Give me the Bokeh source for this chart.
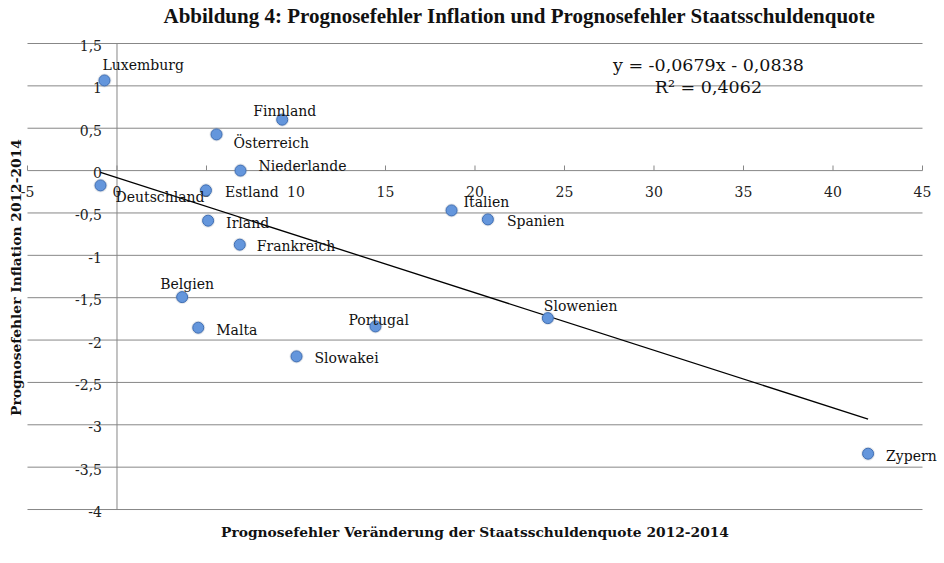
import math
from bokeh.plotting import figure
from bokeh.models import ColumnDataSource, Label
from bokeh.core.properties import value
from bokeh.embed import file_html
from bokeh.resources import INLINE

# ---- data -------------------------------------------------------------
countries = ["Luxemburg", "Finnland", "Österreich", "Niederlande", "Deutschland",
             "Estland", "Irland", "Frankreich", "Italien", "Spanien", "Belgien",
             "Malta", "Portugal", "Slowakei", "Slowenien", "Zypern"]
debt_error = [-0.70, 9.23, 5.56, 6.90, -0.92, 4.97, 5.09, 6.86, 18.69, 20.72,
              3.64, 4.54, 14.44, 10.03, 24.07, 41.96]
infl_error = [1.064, 0.601, 0.427, 0.0, -0.175, -0.233, -0.591, -0.874, -0.470,
              -0.576, -1.493, -1.854, -1.839, -2.193, -1.741, -3.341]

slope = -0.0679
intercept = -0.0838
r_squared = 0.4062

x_ticks = [-5, 0, 5, 10, 15, 20, 25, 30, 35, 40, 45]
x_tick_labels = ["-5", "0", "5", "10", "15", "20", "25", "30", "35", "40", "45"]
y_ticks = [1.5, 1.0, 0.5, 0.0, -0.5, -1.0, -1.5, -2.0, -2.5, -3.0, -3.5, -4.0]
y_tick_labels = ["1,5", "1", "0,5", "0", "-0,5", "-1", "-1,5", "-2", "-2,5", "-3", "-3,5", "-4"]

# label placement (screen pixel offsets from each point)
label_dx = [-2, -29, 17, 18, 15, 19, 18, 17, 12, 19, -22, 18, -27, 18, -4, 18]
label_dy = [-15, -9, 9, -5, 12, 2, 2, 1, -8, 2, -13, 2, -6, 2, -12, 2]

# ---- figure -----------------------------------------------------------
XMIN, XMAX = x_ticks[0], x_ticks[-1]
YMIN, YMAX = y_ticks[-1], y_ticks[0]

p = figure(width=944, height=563, output_backend="svg", toolbar_location=None,
           x_range=(-6.508, 46.229), y_range=(-4.637, 2.0075),
           x_axis_location=None, y_axis_location=None,
           min_border_left=0, min_border_right=0, min_border_top=0, min_border_bottom=0)
p.title.visible = False
p.grid.visible = False
p.outline_line_color = None
p.background_fill_color = "white"
p.border_fill_color = "white"

grid_color = "#878787"
serif = value("DejaVu Serif")

# horizontal gridlines
p.segment(x0=[XMIN] * len(y_ticks), x1=[XMAX] * len(y_ticks), y0=y_ticks, y1=y_ticks,
          line_color=grid_color, line_width=1)
# vertical axis at x = 0
p.segment(x0=[0], x1=[0], y0=[YMIN], y1=[YMAX], line_color=grid_color, line_width=1)
# x ticks (upwards)
p.segment(x0=x_ticks, x1=x_ticks, y0=[0] * len(x_ticks), y1=[0.06] * len(x_ticks),
          line_color=grid_color, line_width=1)

# tick labels
p.text(x=x_ticks, y=[0] * len(x_ticks), text=x_tick_labels, y_offset=21,
       text_align="center", text_baseline="middle", text_font=serif,
       text_font_size="14px", text_color="#222222")
p.text(x=[0] * len(y_ticks), y=y_ticks, text=y_tick_labels, x_offset=-15, y_offset=2,
       text_align="right", text_baseline="middle", text_font=serif,
       text_font_size="14px", text_color="#222222")

# trendline
x0, x1 = min(debt_error), max(debt_error)
p.line([x0, x1], [slope * x0 + intercept, slope * x1 + intercept],
       line_color="black", line_width=1.3)

# points
src = ColumnDataSource(dict(x=debt_error, y=infl_error, name=countries,
                            dx=label_dx, dy=label_dy))
p.scatter("x", "y", source=src, size=14, fill_color="#9aa3b0", fill_alpha=0.25,
          line_color=None)
p.scatter("x", "y", source=src, size=11, fill_color="#6496dc", line_color="#3f6eb3",
          line_width=1)
p.text("x", "y", text="name", source=src, x_offset="dx", y_offset="dy",
       text_align="left", text_baseline="middle", text_font=serif,
       text_font_size="14px", text_color="#111111")

# regression equation
eq = "y = {:.4f}x - {:.4f}".format(slope, abs(intercept)).replace(".", ",")
r2 = "R² = {:.4f}".format(r_squared).replace(".", ",")
p.add_layout(Label(x=33.04, y=1.252, text=eq, text_align="center", text_baseline="middle",
                   text_font="DejaVu Serif", text_font_size="17.5px", text_color="#111111"))
p.add_layout(Label(x=33.04, y=0.981, text=r2, text_align="center", text_baseline="middle",
                   text_font="DejaVu Serif", text_font_size="17.5px", text_color="#111111"))

# titles
p.add_layout(Label(x=22.49, y=1.82,
                   text="Abbildung 4: Prognosefehler Inflation und Prognosefehler Staatsschuldenquote",
                   text_align="center", text_baseline="middle", text_font="Liberation Serif",
                   text_font_style="bold", text_font_size="21px", text_color="#111111"))
p.add_layout(Label(x=20.0, y=-4.271,
                   text="Prognosefehler Veränderung der Staatsschuldenquote 2012-2014",
                   text_align="center", text_baseline="middle", text_font="DejaVu Serif",
                   text_font_style="bold", text_font_size="13.8px", text_color="#111111"))
p.add_layout(Label(x=-5.67, y=-1.262, angle=math.pi / 2,
                   text="Prognosefehler Inflation 2012-2014",
                   text_align="center", text_baseline="middle", text_font="DejaVu Serif",
                   text_font_style="bold", text_font_size="13.8px", text_color="#111111"))

open("out.html", "w").write(file_html(p, INLINE))
